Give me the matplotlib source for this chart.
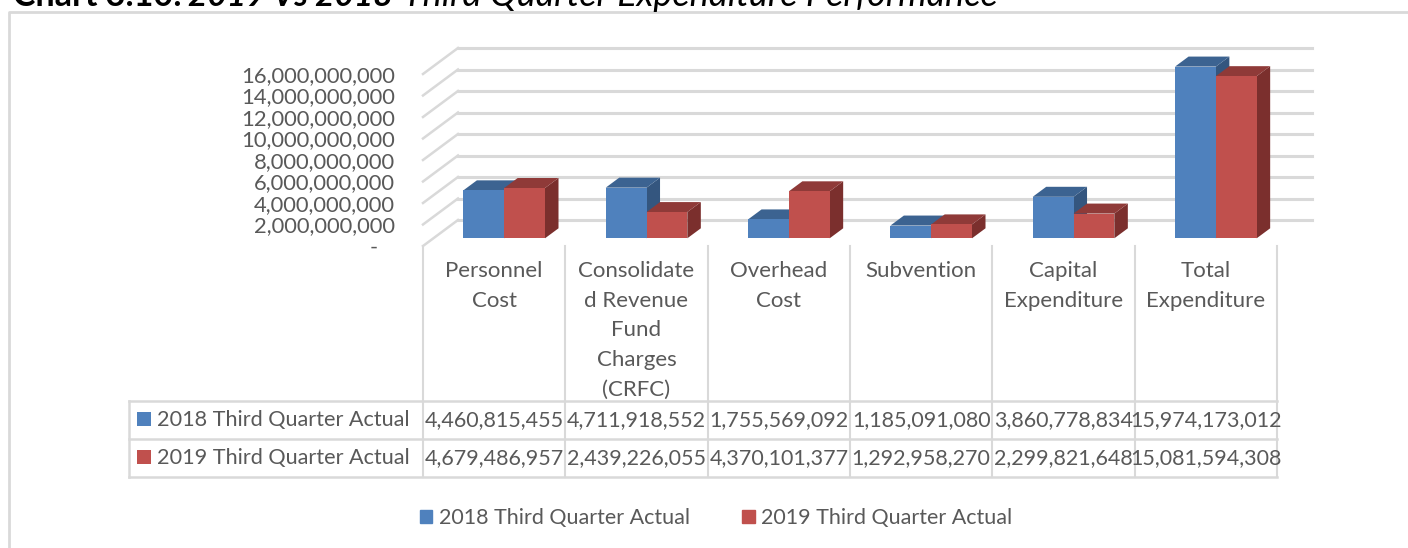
import numpy as np
import matplotlib
matplotlib.use("Agg")
import matplotlib.pyplot as plt
from matplotlib.patches import Patch

plt.rcParams['font.family'] = ['Lato', 'DejaVu Sans']

# Data
categorias = ["Personnel\nCost", "Consolidate\nd Revenue\nFund\nCharges\n(CRFC)", "Overhead\nCost",
              "Subvention", "Capital\nExpenditure", "Total\nExpenditure"]
serie_2018 = [4460815455, 4711918552, 1755569092, 1185091080, 3860778834, 15974173012]
serie_2019 = [4679486957, 2439226055, 4370101377, 1292958270, 2299821648, 15081594308]
nome_2018 = "2018 Third Quarter Actual"
nome_2019 = "2019 Third Quarter Actual"
ticks_y = [0, 2e9, 4e9, 6e9, 8e9, 10e9, 12e9, 14e9, 16e9]
titulo_a = "Chart 3.10:"
titulo_b = "2019 Vs 2018"
titulo_c = "Third Quarter Expenditure Performance"

W, H = 1408, 548
AZUL, AZUL_TOPO, AZUL_LADO = "#4f81bd", "#3c6391", "#34567f"
VERM, VERM_TOPO, VERM_LADO = "#c0504d", "#8f3a38", "#7b2f2d"
GRADE = "#d9d9d9"
TEXTO = "#595959"

fig = plt.figure(figsize=(W / 100, H / 100), dpi=100, facecolor="white")

# Eixo de fundo em pixels: moldura, tabela e textos
bg = fig.add_axes([0, 0, 1, 1])
bg.set_xlim(0, W)
bg.set_ylim(H, 0)
bg.axis("off")

# Eixo principal: plano frontal do grafico 3D
x0, x1, y0, y1 = 423.0, 1277.0, 246.0, 74.0
ax = fig.add_axes([x0 / W, 1 - y0 / H, (x1 - x0) / W, (y0 - y1) / H])
ax.set_xlim(0, 6)
ax.set_ylim(0, 16e9)
ax.patch.set_alpha(0)
for s in ax.spines.values():
    s.set_visible(False)
ax.set_xticks([])
ax.set_yticks(ticks_y)
ax.set_yticklabels(["-   " if t == 0 else f"{int(t):,}" for t in ticks_y], fontsize=15.8, color=TEXTO)
ax.tick_params(axis="y", length=0, pad=20)

px = 6 / (x1 - x0)  # um pixel em unidades de categoria
py = 16e9 / (y0 - y1)  # um pixel em unidades de valor

# Parede lateral e grades do fundo
prof_x, prof_y = 35 * px, 26 * py
for t in ticks_y:
    ax.plot([0, prof_x], [t, t + prof_y], color=GRADE, lw=1.8, clip_on=False, zorder=1)
    ax.plot([prof_x, 889 * px], [t + prof_y, t + prof_y], color=GRADE, lw=2.2, clip_on=False, zorder=1)

# Barras
larg = 40.8 * px
base_x = 40.4 * px
base_y = 7.7 * py
dx, dy = 13.5 * px, 10 * py


def barra(x, v, frente, topo, lado, z):
    y = base_y + v
    ax.fill([x + larg, x + larg + dx, x + larg + dx, x + larg],
            [base_y, base_y + dy, y + dy, y], color=lado, lw=0, clip_on=False, zorder=z)
    ax.fill([x, x + dx, x + larg + dx, x + larg], [y, y + dy, y + dy, y],
            color=topo, lw=0, clip_on=False, zorder=z)
    ax.bar(x, v, larg, bottom=base_y, align="edge", color=frente, clip_on=False, zorder=z + 0.5)


for i in range(len(categorias)):
    barra(i + base_x, serie_2018[i], AZUL, AZUL_TOPO, AZUL_LADO, 3 + i)
    barra(i + base_x + larg, serie_2019[i], VERM, VERM_TOPO, VERM_LADO, 3 + i + 0.7)

# Moldura do grafico
bg.plot([9, 9, W], [H, 12, 12], color=GRADE, lw=2)

# Titulo (cortado no topo da imagem)
bg.text(13, 6, titulo_a, fontsize=24.5, fontweight="bold", color="black", va="baseline", clip_on=False)
bg.text(188, 6, titulo_b, fontsize=24, fontweight="bold", style="italic", color="black", va="baseline", clip_on=False)
bg.text(403, 6, titulo_c, fontsize=25.9, style="italic", color="black", va="baseline", clip_on=False)

# Tabela de dados
lim_x = [x0 + i * (x1 - x0) / 6 for i in range(7)]
for x in lim_x:
    bg.plot([x, x], [246, 477], color=GRADE, lw=1.5)
for y in [401, 439, 477]:
    bg.plot([129, 1277], [y, y], color=GRADE, lw=1.8)
bg.plot([129, 129], [401, 477], color=GRADE, lw=1.8)

for i, c in enumerate(categorias):
    bg.text((lim_x[i] + lim_x[i + 1]) / 2, 261, c, ha="center", va="top", fontsize=16, color=TEXTO, linespacing=1.6)

for y, nome, serie, cor in [(420, nome_2018, serie_2018, AZUL), (458, nome_2019, serie_2019, VERM)]:
    bg.plot([143.5], [y - 1], marker="s", ms=10.5, color=cor, mew=0)
    bg.text(157, y, nome, va="center", fontsize=15.6, color=TEXTO)
    for i, v in enumerate(serie):
        bg.text((lim_x[i] + lim_x[i + 1]) / 2, y, f"{v:,}", ha="center", va="center", fontsize=15.5, color=TEXTO)

# Legenda
fig.legend(handles=[Patch(color=AZUL, label=nome_2018), Patch(color=VERM, label=nome_2019)],
           loc="center", bbox_to_anchor=(716 / W, 1 - 518 / H), ncol=2, frameon=False, fontsize=15.5,
           labelcolor=TEXTO, handlelength=0.6, handleheight=0.6, handletextpad=0.3, columnspacing=2.42)

fig.savefig("out.png", dpi=100)
